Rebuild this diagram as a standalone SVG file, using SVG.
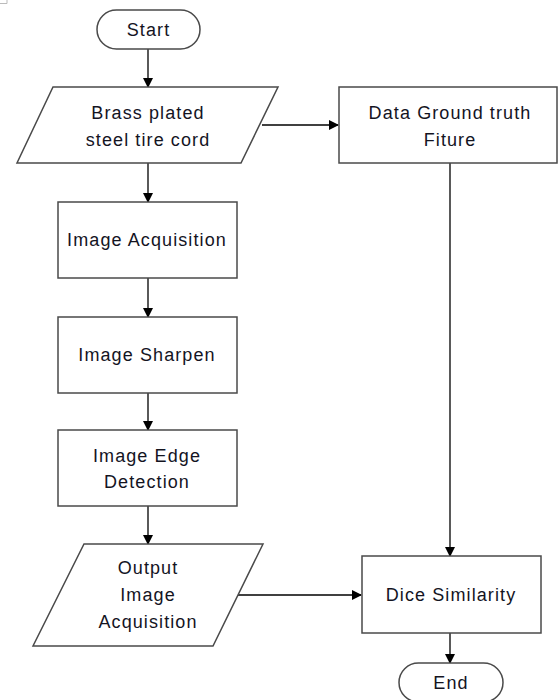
<svg xmlns="http://www.w3.org/2000/svg" width="560" height="700" viewBox="0 0 560 700">
<defs>
<marker id="ah" markerWidth="10" markerHeight="10" refX="9" refY="5" orient="auto" markerUnits="userSpaceOnUse">
<path d="M0,0 L10,5 L0,10 Z" fill="#000"/>
</marker>
<style>
.shape{fill:#fff;stroke:#4a4a4a;stroke-width:1.5}
.t{font-family:"Liberation Sans",Arial,sans-serif;font-size:18px;fill:#14141f;text-anchor:middle;letter-spacing:1.1px}
.c{fill:none;stroke:#000;stroke-width:1.3}
</style>
</defs>
<rect width="560" height="700" fill="#fff"/>
<path d="M0,3.5 H7 V0" fill="none" stroke="#bbb" stroke-width="1"/>
<g id="connectors">
<line class="c" x1="148" y1="49" x2="148" y2="87" marker-end="url(#ah)"/>
<line class="c" x1="262" y1="125" x2="338" y2="125" marker-end="url(#ah)"/>
<line class="c" x1="148" y1="163" x2="148" y2="202" marker-end="url(#ah)"/>
<line class="c" x1="148" y1="278" x2="148" y2="317" marker-end="url(#ah)"/>
<line class="c" x1="148" y1="393" x2="148" y2="430" marker-end="url(#ah)"/>
<line class="c" x1="148" y1="506" x2="148" y2="544" marker-end="url(#ah)"/>
<line class="c" x1="450" y1="163" x2="450" y2="556" marker-end="url(#ah)"/>
<line class="c" x1="238" y1="595" x2="361" y2="595" marker-end="url(#ah)"/>
<line class="c" x1="450" y1="633" x2="450" y2="663" marker-end="url(#ah)"/>
</g>
<g id="start">
<rect class="shape" x="97" y="10" width="103" height="39" rx="19.5"/>
<text class="t" x="148.5" y="36">Start</text>
</g>
<g id="input">
<polygon class="shape" points="53,87 278,87 241,163 17,163"/>
<text class="t" x="148" y="119">Brass plated</text>
<text class="t" x="148" y="146">steel tire cord</text>
</g>
<g id="groundtruth">
<rect class="shape" x="339" y="87" width="218" height="76"/>
<text class="t" x="450" y="119">Data Ground truth</text>
<text class="t" x="450" y="146">Fiture</text>
</g>
<g id="acquisition">
<rect class="shape" x="58" y="202" width="179" height="76"/>
<text class="t" x="147" y="246">Image Acquisition</text>
</g>
<g id="sharpen">
<rect class="shape" x="58" y="317" width="179" height="76"/>
<text class="t" x="147" y="361">Image Sharpen</text>
</g>
<g id="edge">
<rect class="shape" x="58" y="430" width="179" height="76"/>
<text class="t" x="147" y="462">Image Edge</text>
<text class="t" x="147" y="488">Detection</text>
</g>
<g id="output">
<polygon class="shape" points="84,544 263,544 213,646 33,646"/>
<text class="t" x="148" y="574">Output</text>
<text class="t" x="148" y="601">Image</text>
<text class="t" x="148" y="628">Acquisition</text>
</g>
<g id="dice">
<rect class="shape" x="362" y="556" width="179" height="77"/>
<text class="t" x="451" y="601">Dice Similarity</text>
</g>
<g id="end">
<rect class="shape" x="399" y="663" width="104" height="39" rx="19.5"/>
<text class="t" x="451" y="689">End</text>
</g>
</svg>
